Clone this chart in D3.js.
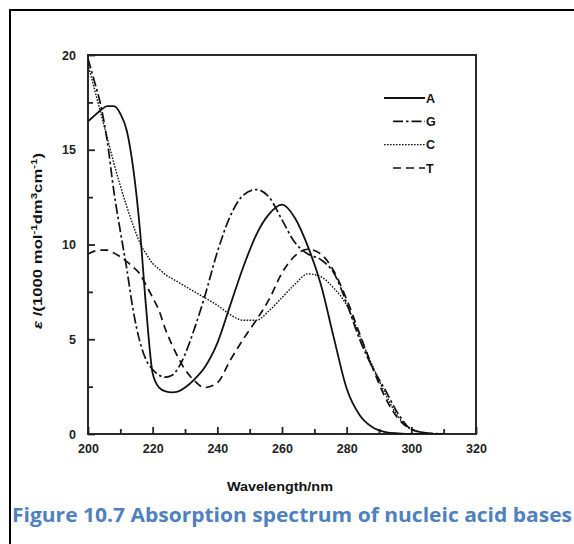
<!DOCTYPE html>
<html>
<head>
<meta charset="utf-8">
<script src="https://cdn.jsdelivr.net/npm/d3@7"></script>
<style>
    body { margin: 0; background: #fff; }
    svg { display: block; }
</style>
</head>
<body>
<script>
// wavelength grid (nm) shared by all four bases
var wavelengths = [200, 202, 204, 206, 208, 210, 212, 214, 216, 218, 220, 222, 224, 226, 228, 230,
    233, 236, 240, 244, 248, 252, 256, 260, 264, 268, 272, 276, 280, 284, 288, 292, 296, 300, 305, 310];

// epsilon / (1000 mol-1 dm3 cm-1)
var adenine = [16.5, 16.8, 17.1, 17.3, 17.3, 16.9, 16.0, 14.0, 10.9, 6.6, 3.2, 2.45, 2.25, 2.2, 2.25, 2.45,
    2.9, 3.5, 4.8, 6.8, 8.8, 10.5, 11.6, 12.1, 11.4, 9.9, 7.9, 5.1, 2.4, 1.0, 0.35, 0.1, 0.03, 0, 0, 0];
var guanine = [19.8, 18.6, 17.3, 15.4, 12.8, 10.7, 8.7, 6.5, 4.9, 3.9, 3.4, 3.1, 3.0, 3.1, 3.5, 4.2,
    5.6, 7.2, 9.6, 11.5, 12.6, 12.9, 12.5, 11.3, 10.1, 9.5, 9.2, 8.5, 6.9, 5.0, 3.5, 2.3, 1.05, 0.25, 0.05, 0];
var cytosine = [19.5, 18.2, 16.9, 15.6, 14.3, 13.1, 12.0, 11.0, 10.1, 9.5, 9.0, 8.7, 8.4, 8.2, 8.0, 7.8,
    7.5, 7.2, 6.8, 6.3, 6.0, 6.0, 6.5, 7.2, 7.9, 8.45, 8.3, 7.7, 6.8, 5.2, 3.6, 2.1, 0.9, 0.25, 0.05, 0];
var thymine = [9.5, 9.65, 9.7, 9.7, 9.55, 9.35, 9.1, 8.8, 8.45, 7.85, 7.2, 6.5, 5.5, 4.7, 4.0, 3.4,
    2.8, 2.45, 2.7, 3.9, 5.0, 6.0, 7.1, 8.5, 9.4, 9.75, 9.5, 8.6, 7.1, 5.3, 3.5, 1.9, 0.8, 0.25, 0.05, 0];

var seriesNames = ["A", "G", "C", "T"];
var xTicks = [200, 220, 240, 260, 280, 300, 320];
var yTicks = [0, 5, 10, 15, 20];

function draw() {
    var width = 574,
        height = 544,
        plotLeft = 88,
        plotRight = 476,
        plotTop = 55,
        plotBottom = 434;

    var svg = d3.select("body").append("svg")
        .attr("width", width)
        .attr("height", height);

    // outer frame of the page figure
    svg.append("rect")
        .attr("x", 10).attr("y", 10)
        .attr("width", 600).attr("height", 600)
        .attr("fill", "none")
        .attr("stroke", "#000")
        .attr("stroke-width", 2);

    var x = d3.scaleLinear().domain([200, 320]).range([plotLeft, plotRight]);
    var y = d3.scaleLinear().domain([0, 20]).range([plotBottom, plotTop]);

    var tickFont = "'Liberation Sans', Arial, sans-serif";

    // plot box
    svg.append("rect")
        .attr("x", plotLeft).attr("y", plotTop)
        .attr("width", plotRight - plotLeft).attr("height", plotBottom - plotTop)
        .attr("fill", "none")
        .attr("stroke", "#2a2a2a")
        .attr("stroke-width", 2);

    // minor ticks, inward
    svg.append("g")
        .attr("transform", "translate(0," + plotBottom + ")")
        .call(d3.axisBottom(x).tickValues(d3.range(210, 320, 20)).tickSize(-5).tickFormat(""))
        .call(g => g.select(".domain").remove())
        .selectAll("line").attr("stroke", "#222").attr("stroke-width", 1.8);

    svg.append("g")
        .attr("transform", "translate(" + plotLeft + ",0)")
        .call(d3.axisLeft(y).tickValues(d3.range(2.5, 20, 5)).tickSize(-5).tickFormat(""))
        .call(g => g.select(".domain").remove())
        .selectAll("line").attr("stroke", "#222").attr("stroke-width", 1.8);

    // major ticks with labels
    var xAxis = svg.append("g")
        .attr("transform", "translate(0," + plotBottom + ")")
        .call(d3.axisBottom(x).tickValues(xTicks).tickSize(-7).tickPadding(10));
    xAxis.select(".domain").remove();
    xAxis.selectAll("line").attr("stroke", "#222").attr("stroke-width", 1.8);
    xAxis.selectAll("text")
        .attr("font-family", tickFont)
        .attr("font-size", 12.5)
        .attr("font-weight", "bold")
        .attr("fill", "#222");

    var yAxis = svg.append("g")
        .attr("transform", "translate(" + plotLeft + ",0)")
        .call(d3.axisLeft(y).tickValues(yTicks).tickSize(-7).tickPadding(12));
    yAxis.select(".domain").remove();
    yAxis.selectAll("line").attr("stroke", "#222").attr("stroke-width", 1.8);
    yAxis.selectAll("text")
        .attr("font-family", tickFont)
        .attr("font-size", 12.5)
        .attr("font-weight", "bold")
        .attr("fill", "#222");

    // curves
    var styles = {
        A: { data: adenine, dash: null, width: 1.8 },
        G: { data: guanine, dash: "10,3,2.5,3", width: 1.7 },
        C: { data: cytosine, dash: "1.6,1.4", width: 1.4 },
        T: { data: thymine, dash: "8,5", width: 1.7 }
    };

    var line = d3.line()
        .x(function (d) { return x(d[0]); })
        .y(function (d) { return y(d[1]); })
        .curve(d3.curveMonotoneX);

    svg.append("clipPath").attr("id", "plot-clip")
        .append("rect")
        .attr("x", plotLeft).attr("y", plotTop - 2)
        .attr("width", plotRight - plotLeft).attr("height", plotBottom - plotTop + 2);

    var curves = svg.append("g").attr("clip-path", "url(#plot-clip)");

    seriesNames.forEach(function (name) {
        var s = styles[name];
        var pts = wavelengths.map(function (w, i) { return [w, s.data[i]]; });
        curves.append("path")
            .datum(pts)
            .attr("d", line)
            .attr("fill", "none")
            .attr("stroke", "#111")
            .attr("stroke-width", s.width)
            .attr("stroke-dasharray", s.dash);
    });

    // legend
    var legendY = d3.scalePoint().domain(seriesNames).range([98, 168]);
    var legendStart = { A: 384, G: 393, C: 384, T: 393 };

    var legend = svg.append("g");
    seriesNames.forEach(function (name) {
        var s = styles[name];
        var ly = legendY(name);
        legend.append("line")
            .attr("x1", legendStart[name]).attr("x2", 425)
            .attr("y1", ly).attr("y2", ly)
            .attr("stroke", "#111")
            .attr("stroke-width", s.width)
            .attr("stroke-dasharray", s.dash);
        legend.append("text")
            .attr("x", 426).attr("y", ly)
            .attr("dy", "0.36em")
            .attr("font-family", tickFont)
            .attr("font-size", 12.5)
            .attr("font-weight", "bold")
            .attr("fill", "#111")
            .text(name);
    });

    // axis titles
    svg.append("text")
        .attr("x", 280)
        .attr("y", 491)
        .attr("text-anchor", "middle")
        .attr("textLength", 106)
        .attr("lengthAdjust", "spacingAndGlyphs")
        .attr("font-family", tickFont)
        .attr("font-size", 12.5)
        .attr("font-weight", "bold")
        .attr("fill", "#111")
        .text("Wavelength/nm");

    var yTitle = svg.append("text")
        .attr("transform", "translate(42,241) rotate(-90)")
        .attr("text-anchor", "middle")
        .attr("textLength", 176)
        .attr("lengthAdjust", "spacingAndGlyphs")
        .attr("font-family", tickFont)
        .attr("font-size", 12.5)
        .attr("font-weight", "bold")
        .attr("fill", "#111");
    yTitle.append("tspan").attr("font-style", "italic").text("ε");
    yTitle.append("tspan").text(" /(1000 mol");
    yTitle.append("tspan").attr("baseline-shift", "super").attr("font-size", 8.5).text("-1");
    yTitle.append("tspan").text("dm");
    yTitle.append("tspan").attr("baseline-shift", "super").attr("font-size", 8.5).text("3");
    yTitle.append("tspan").text("cm");
    yTitle.append("tspan").attr("baseline-shift", "super").attr("font-size", 8.5).text("-1");
    yTitle.append("tspan").text(")");

    // figure caption
    svg.append("text")
        .attr("x", 12)
        .attr("y", 522)
        .attr("textLength", 560)
        .attr("lengthAdjust", "spacingAndGlyphs")
        .attr("font-family", "'Open Sans', 'Noto Sans', sans-serif")
        .attr("font-size", 20)
        .attr("font-weight", "bold")
        .attr("fill", "#4f81bd")
        .text("Figure 10.7 Absorption spectrum of nucleic acid bases");
}

window.addEventListener('load', draw);
</script>
</body>
</html>
